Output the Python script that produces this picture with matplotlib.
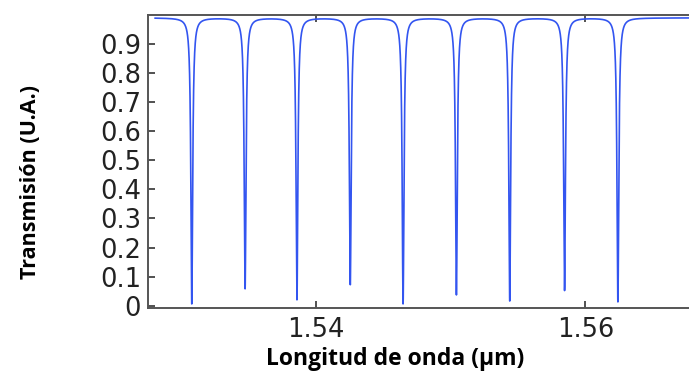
import numpy as np
import matplotlib.pyplot as plt

plt.rcParams['font.family'] = 'DejaVu Sans'

# resonance dips (wavelength in um, minimum transmission)
dip_centres = [1.53078, 1.53474, 1.53859, 1.54255, 1.54647,
               1.55043, 1.55439, 1.55846, 1.56242]
dip_minima = [0.006, 0.058, 0.020, 0.072, 0.006, 0.037, 0.016, 0.052, 0.013]
dip_width = 0.00016          # FWHM of each dip, um
peak_level = 0.99

x_ticks = [1.54, 1.56]
x_tick_labels = ['1.54', '1.56']
y_ticks = [0, 0.1, 0.2, 0.3, 0.4, 0.5, 0.6, 0.7, 0.8, 0.9]
y_tick_labels = ['0', '0.1', '0.2', '0.3', '0.4', '0.5', '0.6', '0.7', '0.8', '0.9']

# transmission built from the dips above (lorentzian line shape)
wl = np.linspace(1.52806, 1.5680, 20000)
trans = np.full_like(wl, peak_level)
for c, m in zip(dip_centres, dip_minima):
    lor = 1.0 / (1.0 + (2 * (wl - c) / dip_width) ** 2)
    trans *= 1 - (1 - m / peak_level) * lor

fig = plt.figure(figsize=(6.89, 3.73), dpi=100)
ax = fig.add_axes([0.2148, 0.175, 0.7852, 0.785])
ax.plot(wl, trans, color='#3355f0', lw=1.2)

ax.set_xlim(1.52753, 1.5677)
ax.set_ylim(-0.007, 1.0)

ax.set_xticks(x_ticks)
ax.set_xticklabels(x_tick_labels)
ax.set_yticks(y_ticks)
ax.set_yticklabels(y_tick_labels)
ax.tick_params(direction='in', length=5, width=1.2, color='#333333',
               labelsize=18.5, labelcolor='#222222', top=True, pad=5)
ax.tick_params(axis='x', pad=7)

for side in ['left', 'bottom', 'top']:
    ax.spines[side].set_color('#555555')
    ax.spines[side].set_linewidth(1.4)
ax.spines['right'].set_visible(False)

ax.set_xlabel('Longitud de onda (µm)', family='Open Sans', fontweight='bold',
              fontsize=16.5)
ax.set_ylabel('Transmisión (U.A.)', family='Open Sans', fontweight='bold',
              fontsize=15.5)
ax.xaxis.set_label_coords(0.457, -0.135)
ax.yaxis.set_label_coords(-0.198, 0.43)

fig.savefig('out.png', dpi=100)
